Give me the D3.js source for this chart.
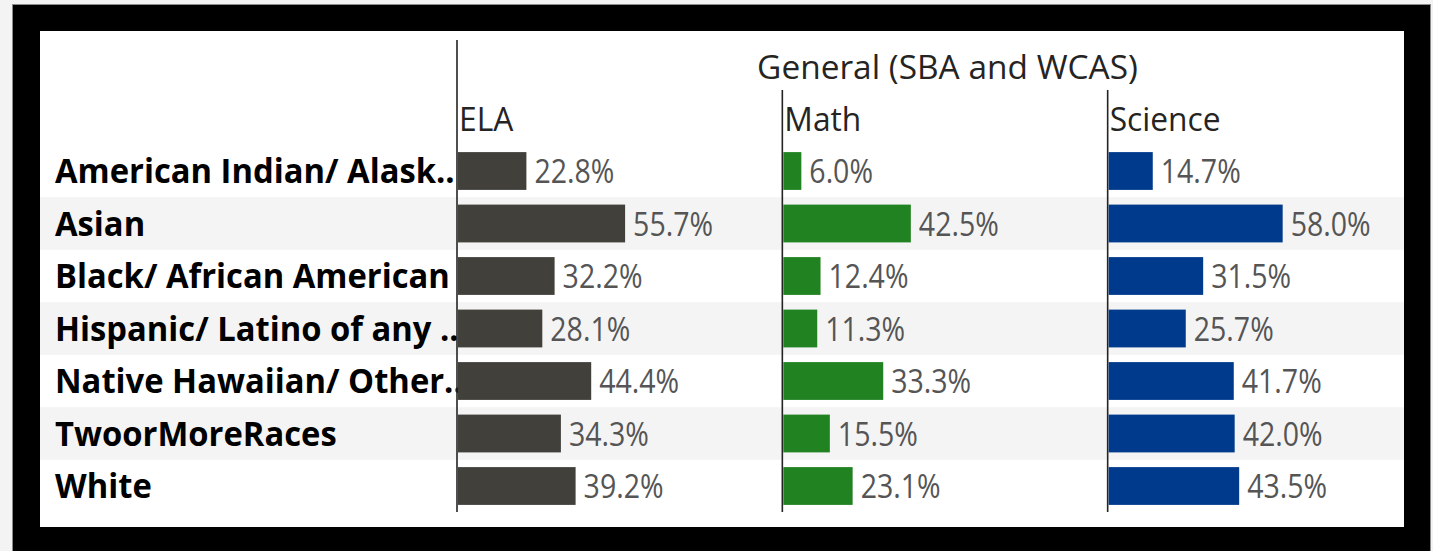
<!DOCTYPE html>
<html>
<head>
<meta charset="utf-8">
<script src="https://cdn.jsdelivr.net/npm/d3@7"></script>
<style>
  html, body { margin: 0; padding: 0; background: #f3f3f3; }
  svg { display: block; }
  text { font-family: "Open Sans", sans-serif; }
</style>
</head>
<body>
<div id="chart"></div>
<script>
/**
 * DATA
 * */
const categories = [
  "American Indian/ Alask..",
  "Asian",
  "Black/ African American",
  "Hispanic/ Latino of any ..",
  "Native Hawaiian/ Other..",
  "TwoorMoreRaces",
  "White"
];
const subjects = ["ELA", "Math", "Science"];
const elaValues = [22.8, 55.7, 32.2, 28.1, 44.4, 34.3, 39.2];
const mathValues = [6.0, 42.5, 12.4, 11.3, 33.3, 15.5, 23.1];
const scienceValues = [14.7, 58.0, 31.5, 25.7, 41.7, 42.0, 43.5];
const groupTitle = "General (SBA and WCAS)";

const seriesValues = { ELA: elaValues, Math: mathValues, Science: scienceValues };
const colors = { ELA: "#41403b", Math: "#218221", Science: "#003a8c" };

/**
 * CONSTANTS
 * */
const width = 1433, height = 551;
const inner = { left: 40, top: 31, right: 1404, bottom: 527 };

let svg = d3.select("#chart")
  .append("svg")
  .attr("width", width)
  .attr("height", height);

// frame
svg.append("rect")
  .attr("x", 0).attr("y", 0).attr("width", width).attr("height", height)
  .attr("fill", "#f3f3f3");
svg.append("rect")
  .attr("x", 12.5).attr("y", 4.5).attr("width", 1418).attr("height", 560)
  .attr("fill", "#000").attr("stroke", "#8a8a8a").attr("stroke-width", 1);
svg.append("rect")
  .attr("x", inner.left).attr("y", inner.top)
  .attr("width", inner.right - inner.left).attr("height", inner.bottom - inner.top)
  .attr("fill", "#fff");

// scales
const rowScale = d3.scaleBand()
  .domain(categories)
  .range([144.75, 512.25]);
const yScale = d3.scaleBand()
  .domain(categories)
  .range([144.75, 512.25])
  .paddingInner(0.28)
  .paddingOuter(0.14);
const panelScale = d3.scaleBand()
  .domain(subjects)
  .range([457, 1433]);
const xScale = d3.scaleLinear()
  .domain([0, 100])
  .range([0, 300]);

// alternating row bands
svg.append("g")
  .selectAll("rect")
  .data(categories.filter((d, i) => i % 2 === 1))
  .join("rect")
  .attr("x", inner.left)
  .attr("width", inner.right - inner.left)
  .attr("y", d => rowScale(d))
  .attr("height", rowScale.bandwidth())
  .attr("fill", "#f4f4f4");

// squash helper: the source text is narrower than our fonts
function place(sel, sx) {
  sel.attr("transform", function () {
    const x = +this.dataset.x, y = +this.dataset.y;
    return `translate(${x},${y}) scale(${sx},1)`;
  });
}
function fitScale(node, target) {
  return target / node.getComputedTextLength();
}

// category labels
const labels = svg.append("g")
  .selectAll("text")
  .data(categories)
  .join("text")
  .attr("data-x", 55)
  .attr("data-y", d => rowScale(d) + rowScale.bandwidth() / 2 + 12)
  .attr("font-size", 34)
  .attr("font-weight", 700)
  .attr("fill", "#000")
  .text(d => d);
place(labels, fitScale(labels.filter(d => d === "Black/ African American").node(), 395));

// header
const header = svg.append("text")
  .attr("data-x", 947.5)
  .attr("data-y", 79)
  .attr("text-anchor", "middle")
  .attr("font-size", 32)
  .attr("fill", "#252423")
  .text(groupTitle);
place(header, fitScale(header.node(), 381));

// panel dividers
svg.append("g")
  .selectAll("line")
  .data(subjects)
  .join("line")
  .attr("x1", d => panelScale(d))
  .attr("x2", d => panelScale(d))
  .attr("y1", (d, i) => i === 0 ? 40 : 90)
  .attr("y2", 512)
  .attr("stroke", "#252423")
  .attr("stroke-width", 1.6);

// panel titles
const panelTitles = svg.append("g")
  .selectAll("text")
  .data(subjects)
  .join("text")
  .attr("data-x", d => panelScale(d) + 2)
  .attr("data-y", 131)
  .attr("font-size", 32)
  .attr("fill", "#252423")
  .text(d => d);
place(panelTitles, fitScale(panelTitles.filter(d => d === "Math").node(), 77));

// bars and values
let valueScaleX = null;
subjects.forEach(subject => {
  const x0 = panelScale(subject) + 1;
  const rows = categories.map((c, i) => ({ category: c, value: seriesValues[subject][i] }));
  const g = svg.append("g");

  g.selectAll("rect")
    .data(rows)
    .join("rect")
    .attr("x", x0)
    .attr("y", d => yScale(d.category))
    .attr("width", d => xScale(d.value))
    .attr("height", yScale.bandwidth())
    .attr("fill", colors[subject]);

  const values = g.selectAll("text")
    .data(rows)
    .join("text")
    .attr("data-x", d => x0 + xScale(d.value) + 8)
    .attr("data-y", d => yScale(d.category) + yScale.bandwidth() / 2 + 12)
    .attr("font-size", 33)
    .attr("fill", "#555555")
    .text(d => d3.format(".1f")(d.value) + "%");

  if (valueScaleX === null) {
    valueScaleX = fitScale(values.node(), 80);
  }
  place(values, valueScaleX);
});
</script>
</body>
</html>
